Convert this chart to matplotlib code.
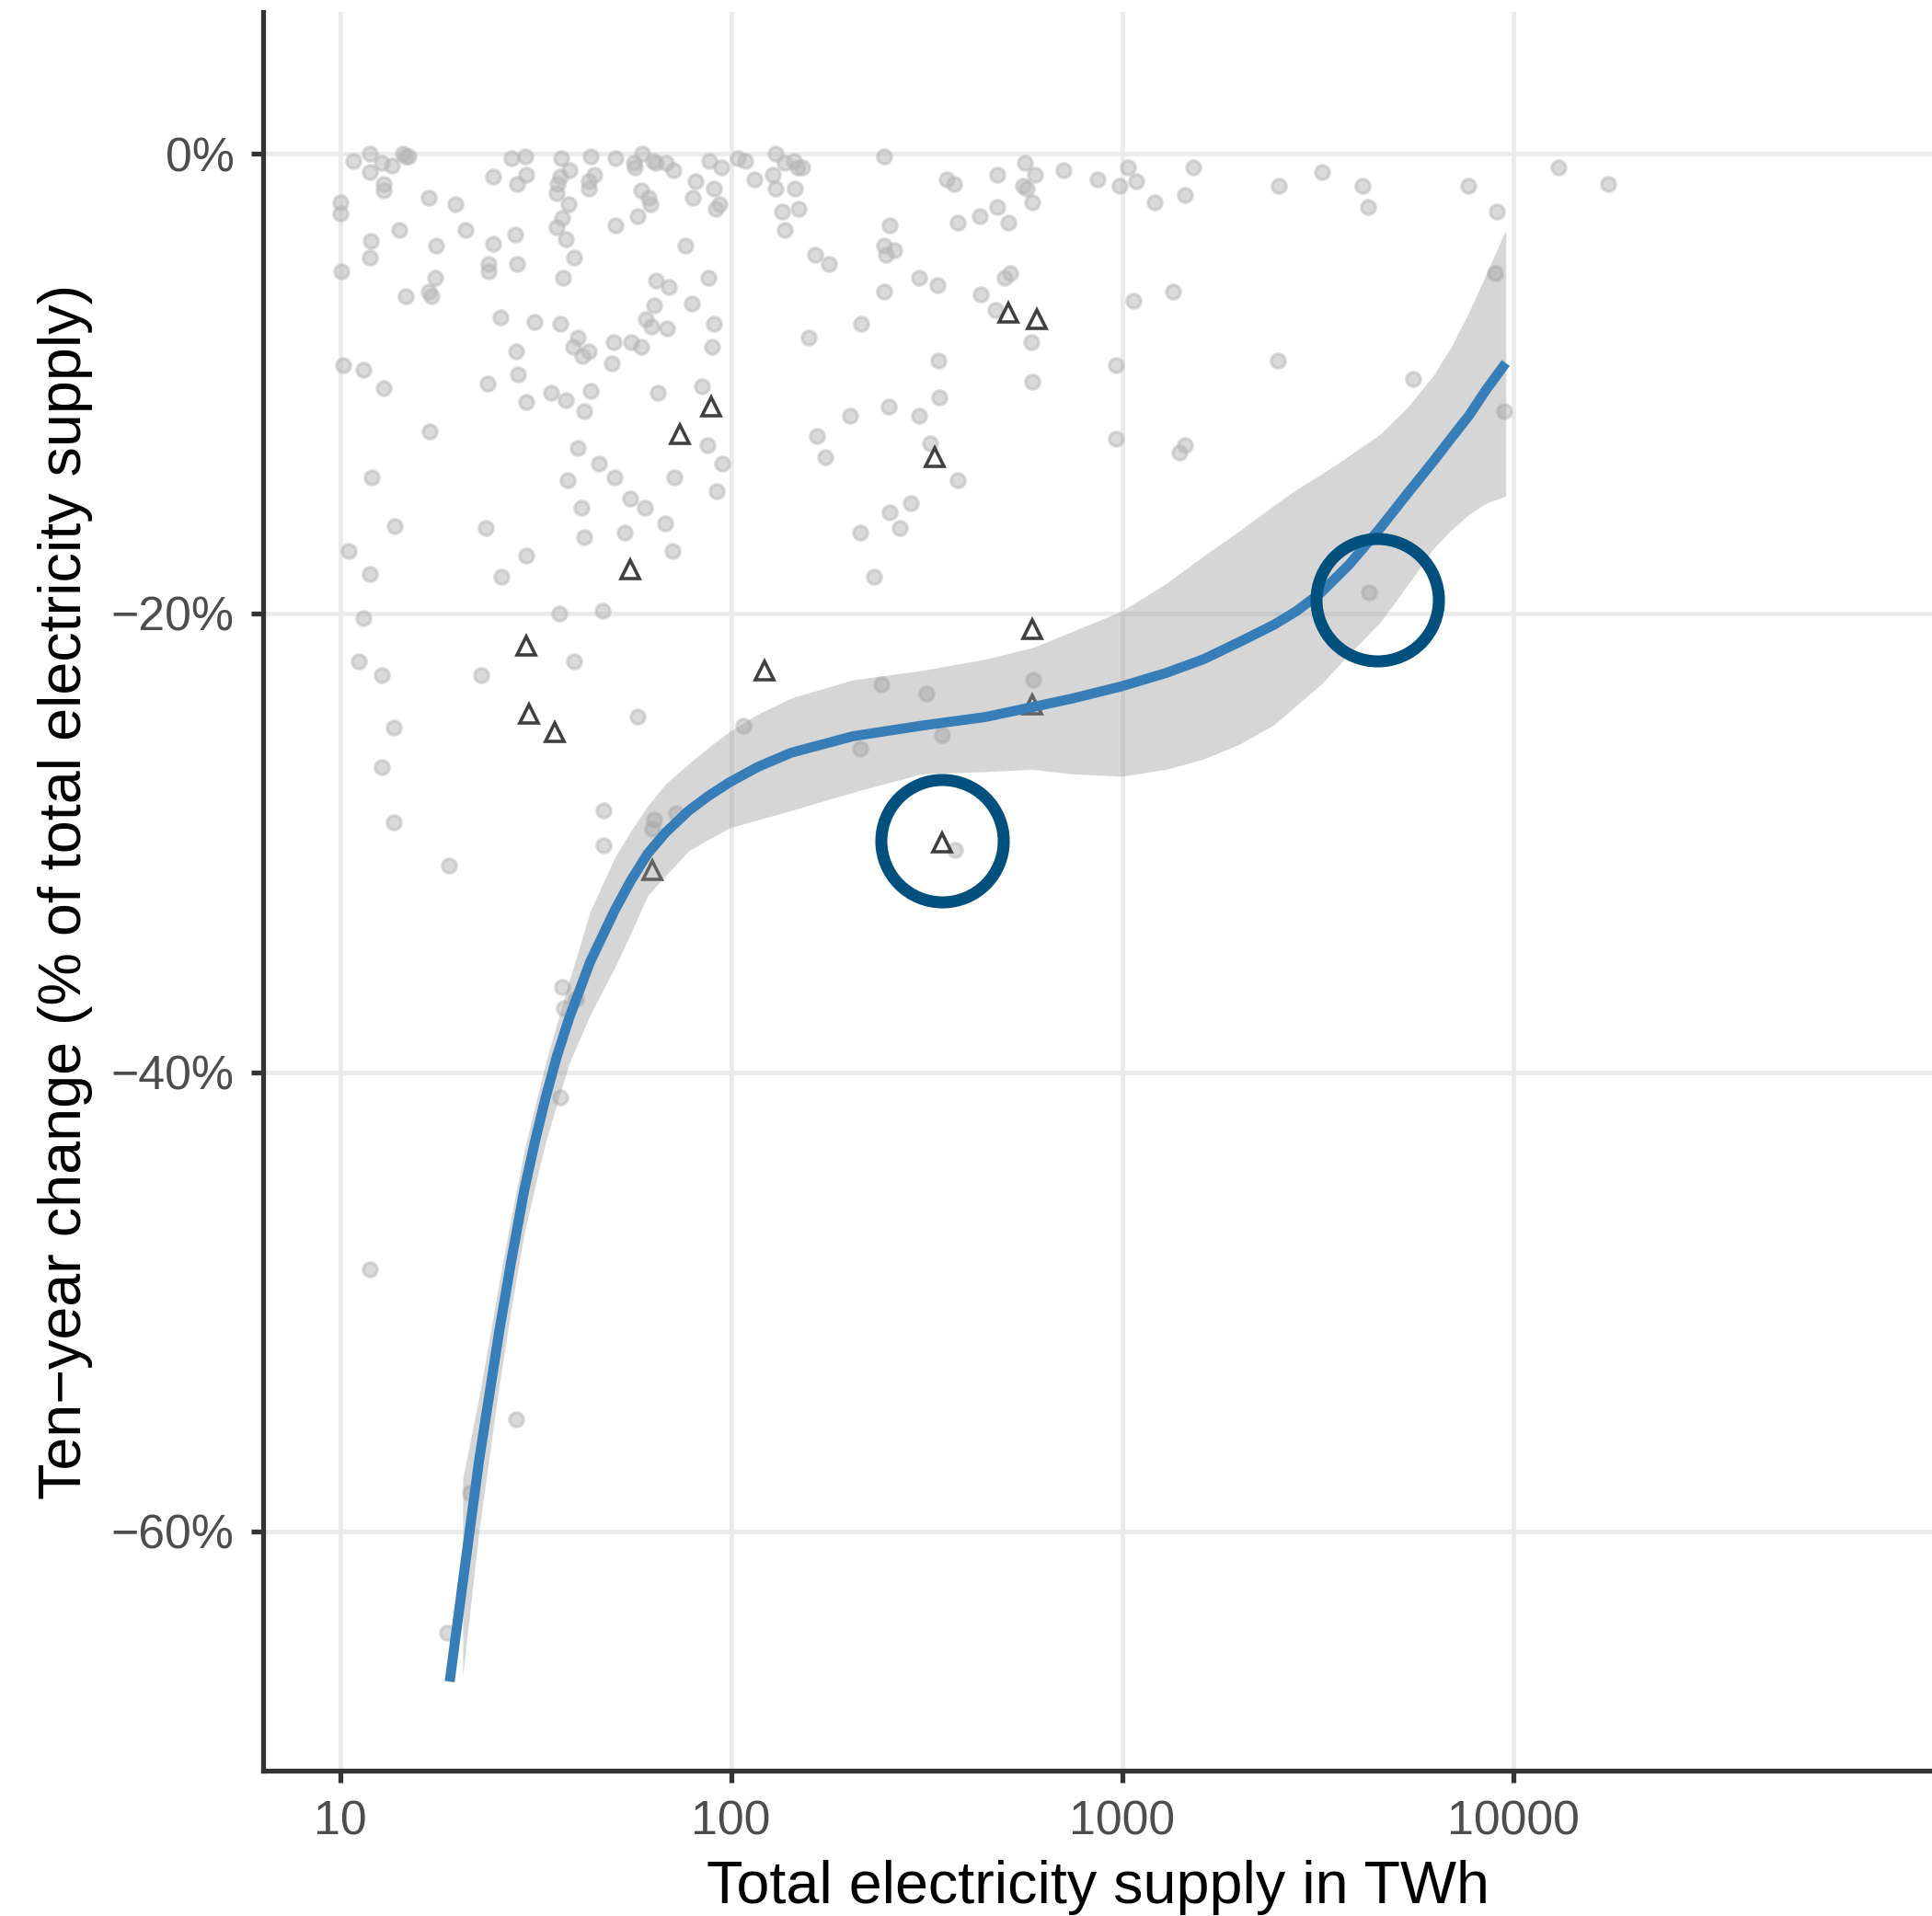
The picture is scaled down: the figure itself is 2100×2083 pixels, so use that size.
import matplotlib.pyplot as plt
from matplotlib.ticker import NullLocator
import numpy as np

plt.rcParams['font.family'] = ['Liberation Sans', 'DejaVu Sans']

# grey points: (total supply TWh, ten-year change %)
grey_points = [
    (10.8, -0.3), (11.9, 0.0), (11.9, -0.8), (12.8, -0.4), (13.6, -0.5), (14.5, 0.0), (14.7, -0.1), (15.0, -0.1),
    (12.9, -1.3), (12.9, -1.6), (10.0, -2.1), (10.0, -2.6), (16.9, -1.9), (19.7, -2.2), (14.2, -3.3), (12.0, -3.8),
    (11.9, -4.5), (10.1, -5.1), (17.6, -4.0), (17.5, -5.4), (14.7, -6.2), (16.9, -6.0), (17.1, -6.2), (21.0, -3.3),
    (24.6, -3.9), (28.0, -3.5), (24.0, -4.8), (24.0, -5.1), (28.3, -4.8), (24.7, -1.0), (27.4, -0.2), (29.8, -0.1),
    (29.9, -0.9), (28.4, -1.3), (36.7, -0.2), (38.6, -0.7), (36.5, -1.0), (36.0, -1.3), (35.8, -1.7), (38.4, -2.2),
    (37.0, -2.8), (35.8, -3.2), (37.8, -3.7), (39.7, -4.5), (37.2, -5.4), (43.7, -0.1), (44.6, -0.9), (43.2, -1.2),
    (43.2, -1.5), (50.6, -0.2), (50.6, -3.1), (56.4, -0.4), (56.7, -0.6), (59.3, 0.0), (63.4, -0.3), (64.2, -0.4),
    (68.2, -0.4), (71.2, -0.7), (59.0, -1.6), (61.5, -1.9), (62.1, -2.2), (57.8, -2.7), (81.3, -1.2), (80.0, -1.9),
    (88.0, -0.3), (94.5, -0.6), (90.6, -1.5), (93.4, -2.2), (91.3, -2.4), (76.3, -4.0), (87.4, -5.4), (64.3, -5.5),
    (69.4, -5.8), (63.7, -6.6), (79.3, -6.5), (60.6, -7.2), (62.6, -7.5), (68.6, -7.6), (90.6, -7.4), (89.5, -8.4),
    (104, -0.2), (25.7, -7.1), (31.4, -7.3), (36.5, -7.4), (40.6, -8.0), (39.5, -8.4), (41.6, -8.8), (43.4, -8.6),
    (50.0, -8.2), (55.5, -8.2), (59.0, -8.4), (49.5, -9.1), (28.2, -8.6), (28.5, -9.6), (23.8, -10.0), (29.9, -10.8),
    (34.6, -10.4), (37.8, -10.7), (43.7, -10.3), (42.1, -11.2), (65.0, -10.4), (84.4, -10.1), (10.2, -9.2), (11.5, -9.4),
    (12.9, -10.2),
    (109, -0.3), (130, 0.0), (137, -0.4), (145, -0.3), (148, -0.6), (152, -0.6), (128, -0.9), (115, -1.1), (130, -1.5),
    (146, -1.5), (135, -2.5), (149, -2.4), (137, -3.3), (247, -0.1), (356, -1.1), (372, -1.3), (480, -0.9), (564, -0.4),
    (598, -0.9), (558, -1.4), (572, -1.5), (591, -2.1), (708, -0.7), (866, -1.1), (985, -1.4), (1037, -0.6), (1090, -1.2),
    (1210, -2.1), (1450, -1.8), (1520, -0.6), (254, -3.1), (380, -3.0), (434, -2.7), (480, -2.3), (512, -3.0),
    (247, -4.0), (249, -4.4), (262, -4.2), (164, -4.4), (178, -4.8), (302, -5.4), (337, -5.7), (247, -6.0), (436, -6.1),
    (517, -5.2), (501, -5.4), (475, -6.8), (586, -8.2), (215, -7.4), (158, -8.0), (339, -9.0), (591, -9.9), (341, -10.6),
    (253, -11.0), (202, -11.4), (302, -11.4), (1067, -6.4), (1350, -6.0), (965, -9.2),
    (2520, -1.4), (3250, -0.8), (4120, -1.4), (4260, -2.3), (7690, -1.4), (9090, -2.5), (13070, -0.6), (17500, -1.3),
    (2510, -9.0), (8990, -5.2), (5550, -9.8), (9490, -11.2), (965, -12.4), (1450, -12.7), (1400, -13.0), (4280, -19.1),
    (17.0, -12.1), (40.6, -12.8), (45.9, -13.5), (50.4, -14.1), (38.2, -14.2), (71.6, -14.1), (87.1, -12.7), (94.9, -13.5),
    (91.9, -14.7), (12.05, -14.1), (55.2, -15.0), (60.2, -15.4), (41.4, -15.4), (67.8, -16.1), (13.8, -16.2), (23.6, -16.3),
    (42.1, -16.7), (53.5, -16.5), (70.9, -17.3), (10.5, -17.3), (29.9, -17.5), (11.9, -18.3), (25.9, -18.4), (11.5, -20.2),
    (36.4, -20.0), (46.9, -19.9), (11.2, -22.1), (12.8, -22.7), (23.0, -22.7), (39.7, -22.1), (57.7, -24.5), (13.7, -25.0),
    (242, -23.1), (107.5, -24.9), (214, -25.9), (12.8, -26.7), (47.2, -28.6), (13.7, -29.1), (63.6, -29.0), (72.4, -28.7),
    (62.9, -29.4), (47.2, -30.1), (19.0, -31.0),
    (37.0, -36.3), (37.4, -37.2), (40.1, -36.8), (36.6, -41.1), (11.9, -48.6), (28.2, -55.1), (21.5, -58.3), (18.8, -64.4),
    (166, -12.3), (174, -13.2), (323, -12.6), (380, -14.2), (288, -15.2), (254, -15.6), (270, -16.3), (214, -16.5),
    (232, -18.4), (316, -23.5), (593, -22.9), (347, -25.3), (374, -30.3),
]

# triangles
tri_supply = [89.0, 74.0, 55.2, 29.9, 30.4, 35.4, 121.8, 62.9, 512, 605, 332, 589, 589, 346.6]
tri_change = [-11.0, -12.2, -18.1, -21.4, -24.4, -25.2, -22.5, -31.2, -6.9, -7.2, -13.2, -20.7, -24.0, -30.0]

# smoothed trend with confidence band
smooth_x = [19.08, 20.6, 22.7, 25.5, 27.4, 29.6, 31.5, 33.5, 35.9, 38.6, 43.6, 50.4, 55.4, 61.2, 67.9, 78.0,
            87.6, 99.1, 117, 142.4, 205, 307, 448, 590, 745, 1000, 1298, 1619, 2000, 2449, 2799, 3227,
            3802, 4571, 5363, 6244, 6930, 7708, 8550, 9582]
smooth_y = [-66.54, -62.25, -56.88, -51.36, -48.24, -45.13, -43.04, -41.16, -39.28, -37.62, -35.2, -32.95, -31.66,
            -30.48, -29.57, -28.6, -27.96, -27.37, -26.7, -26.08, -25.36, -24.9, -24.52, -24.09, -23.72, -23.18,
            -22.6, -22.0, -21.25, -20.5, -19.9, -19.1, -17.9, -16.3, -14.8, -13.4, -12.4, -11.4, -10.25, -9.1]
smooth_hi = [np.nan, -57.7, -54.1, -49.2, -46.3, -43.4, -41.5, -39.65, -37.85, -36.0, -33.0, -30.65, -29.5, -28.4,
             -27.45, -26.55, -25.85, -25.15, -24.4, -23.7, -22.9, -22.5, -22.0, -21.5, -20.8, -19.9, -18.7, -17.5,
             -16.4, -15.3, -14.6, -13.95, -13.15, -12.2, -11.05, -9.66, -8.43, -6.9, -5.2, -3.3]
smooth_lo = [np.nan, -66.3, -59.9, -53.7, -50.3, -47.0, -45.0, -43.1, -41.35, -39.6, -37.5, -35.45, -33.95, -32.3,
             -31.45, -30.35, -29.85, -29.35, -29.0, -28.6, -27.8, -27.0, -26.9, -26.8, -27.0, -27.1, -26.8, -26.35,
             -25.7, -24.85, -24.0, -23.1, -21.8, -20.4, -18.8, -17.2, -16.4, -15.7, -15.2, -14.9]

# highlighted countries
highlight_x = [346, 4495]
highlight_y = [-29.9, -19.4]

fig = plt.figure(figsize=(21, 20.83), dpi=100)
ax = fig.add_axes([286 / 2100, 158 / 2083, 1814 / 2100, 1912 / 2083])
ax.set_xscale('log')
ax.set_xlim(6.36, 117900)
ax.set_ylim(-70.42, 6.19)

gx = [p[0] for p in grey_points]
gy = [p[1] for p in grey_points]
ax.plot(gx, gy, 'o', ls='none', ms=11, mfc='#B7B7B7', mec='#B7B7B7', mew=2.5, alpha=0.5, zorder=2)
ax.plot(tri_supply, tri_change, '^', ls='none', ms=15, mfc='none', mec='#404040', mew=2.6, zorder=3)

ax.fill_between(smooth_x, smooth_lo, smooth_hi, color='#999999', alpha=0.4, lw=0, zorder=4)
ax.plot(smooth_x, smooth_y, color='#377EB8', lw=7.8, solid_capstyle='butt', solid_joinstyle='round', zorder=5)

ax.plot(highlight_x, highlight_y, 'o', ls='none', ms=95.8, mfc='none', mec='#02507E', mew=9.4, zorder=6)

ax.set_xticks([10, 100, 1000, 10000])
ax.set_xticklabels(['10', '100', '1000', '10000'])
ax.xaxis.set_minor_locator(NullLocator())
ax.set_yticks([0, -20, -40, -60])
ax.set_yticklabels(['0%', '\u221220%', '\u221240%', '\u221260%'])

ax.grid(True, color='#EBEBEB', lw=3.4)
ax.set_axisbelow(True)
for s in ['top', 'right']:
    ax.spines[s].set_visible(False)
for s in ['left', 'bottom']:
    ax.spines[s].set_color('#333333')
    ax.spines[s].set_linewidth(3.8)

ax.tick_params(length=9.5, width=3.8, color='#333333', labelsize=37.4, labelcolor='#4D4D4D', pad=13)
ax.set_xlabel('Total electricity supply in TWh', fontsize=46.5, labelpad=12)
ax.set_ylabel('Ten\u2212year change (% of total electricity supply)', fontsize=46.5, labelpad=14)

fig.savefig('out.png', dpi=100)
